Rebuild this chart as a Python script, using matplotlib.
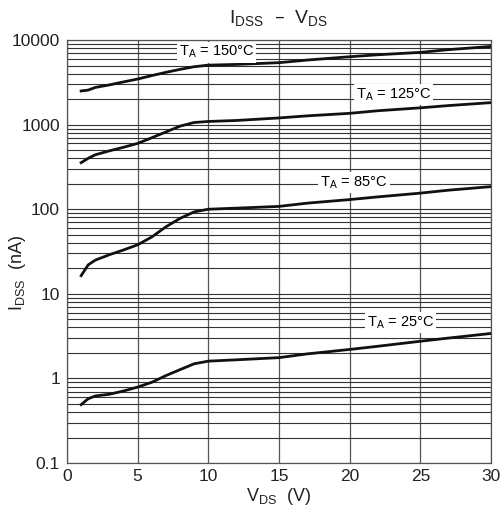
import matplotlib.pyplot as plt
import numpy as np

plt.rcParams['font.family'] = ['Liberation Sans', 'DejaVu Sans']

# V_DS (V) sample points
vds = [1, 1.5, 2, 3, 4, 5, 6, 7, 8, 9, 10, 12, 15, 17, 20, 22, 25, 27, 30]

# I_DSS (nA)
i_150 = [2500, 2560, 2750, 2950, 3200, 3460, 3800, 4150, 4500, 4840, 5050, 5150, 5400, 5800, 6350, 6700, 7150, 7700, 8400]
i_125 = [355, 400, 440, 490, 540, 600, 700, 820, 960, 1060, 1090, 1120, 1200, 1270, 1360, 1460, 1580, 1680, 1820]
i_85 = [16.4, 22, 25, 29, 33, 38, 47, 62, 78, 93, 100, 103, 108, 118, 130, 140, 155, 168, 185]
i_25 = [0.49, 0.575, 0.62, 0.65, 0.71, 0.79, 0.90, 1.08, 1.27, 1.49, 1.60, 1.66, 1.76, 1.95, 2.2, 2.4, 2.75, 3.0, 3.4]

labels = ['T$_\\mathregular{A}$ = 150°C', 'T$_\\mathregular{A}$ = 125°C',
          'T$_\\mathregular{A}$ = 85°C', 'T$_\\mathregular{A}$ = 25°C']
label_x = [10.6, 23.1, 20.3, 23.6]
label_y = [7200, 2290, 205, 4.6]

fig = plt.figure(figsize=(5.03, 5.2), dpi=100)
ax = fig.add_axes([0.1332, 0.1096, 0.843, 0.8134])

for ys in (i_150, i_125, i_85, i_25):
    ax.plot(vds, ys, color='#111111', lw=2.0, zorder=3)

for lab, x, y in zip(labels, label_x, label_y):
    ax.text(x, y, lab, ha='center', va='center', fontsize=10.5, zorder=4,
            bbox=dict(facecolor='white', edgecolor='none', pad=1.5))

ax.set_yscale('log')
ax.set_xlim(0, 30)
ax.set_ylim(0.1, 10000)
ax.set_xticks(np.arange(0, 31, 5))
ax.set_yticks([0.1, 1, 10, 100, 1000, 10000])
ax.set_yticklabels(['0.1', '1', '10', '100', '1000', '10000'])
ax.tick_params(axis='both', which='both', length=0, labelsize=12.5, colors='#222222')
ax.tick_params(axis='y', pad=5)
ax.tick_params(axis='x', pad=4)

ax.grid(True, which='major', axis='x', color='#555555', lw=0.9)
ax.grid(True, which='both', axis='y', color='#333333', lw=0.8)
for s in ax.spines.values():
    s.set_color('#555555')
    s.set_linewidth(0.9)

ax.set_xlabel('V$_\\mathregular{DS}$  (V)', fontsize=13, color='#222222', labelpad=2)
ax.set_ylabel('I$_\\mathregular{DSS}$  (nA)', fontsize=13, color='#222222')
ax.yaxis.set_label_coords(-0.092, 0.449)
ax.set_title('I$_\\mathregular{DSS}$  –  V$_\\mathregular{DS}$', fontsize=14, color='#222222', pad=12)

fig.savefig('out.png', dpi=100)
